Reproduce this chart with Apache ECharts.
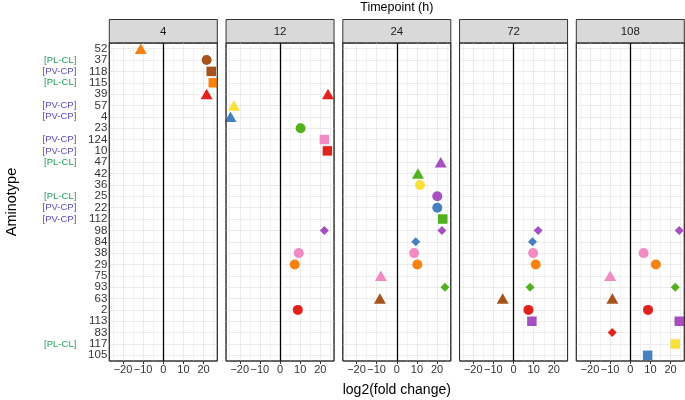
<!DOCTYPE html>
<html><head><meta charset="utf-8">
<script src="https://cdn.jsdelivr.net/npm/echarts@6/dist/echarts.min.js"></script>
<style>html,body{margin:0;padding:0;background:#fff}#c{width:685px;height:400px}</style>
</head><body><div id="c"></div>
<script>
// ---- data ----
const categories = ['52','37','118','115','39','57','4','23','124','10','47','42','36','25','22','112','98','84','38','29','75','93','63','2','113','83','117','105'];
const prefixes = {'37':'[PL-CL]','118':'[PV-CP]','115':'[PL-CL]','57':'[PV-CP]','4':'[PV-CP]','124':'[PV-CP]','10':'[PV-CP]','47':'[PL-CL]','25':'[PL-CL]','22':'[PV-CP]','112':'[PV-CP]','117':'[PL-CL]'};
const timepoints = ['4','12','24','72','108'];
const xTicks = [-20,-10,0,10,20];
const xMinor = [-25,-15,-5,5,15,25];

const tp4   = [['52',-11.2],['37',21.5],['118',23.8],['115',24.8],['39',21.5]];
const tp12  = [['39',23.8],['57',-22.9],['4',-24.6],['23',10.2],['124',22.0],['10',23.5],['98',22.0],['38',9.3],['29',7.3],['2',8.8]];
const tp24  = [['47',21.8],['42',10.5],['36',11.5],['25',20.1],['22',20.1],['112',22.8],['98',22.4],['84',9.4],['38',8.6],['29',10.2],['75',-7.9],['93',23.9],['63',-8.4]];
const tp72  = [['98',12.2],['84',9.4],['38',9.7],['29',11.0],['93',8.2],['63',-5.4],['2',7.4],['113',9.1]];
const tp108 = [['98',24.3],['38',6.6],['29',12.7],['75',-10.0],['93',22.3],['63',-8.9],['2',8.8],['113',24.3],['83',-9.0],['117',22.3],['105',8.6]];
const panelData = [tp4, tp12, tp24, tp72, tp108];

// ---- styles ----
const COL = {orange:'#f8820f', brown:'#a6521c', red:'#e0231c', yellow:'#f7e13a', blue:'#4680c0', green:'#52b11e', pink:'#f08cc3', purple:'#a64fc0'};
const aminoStyle = {
  '52':['triangle','orange'], '37':['circle','brown'], '118':['rect','brown'], '115':['rect','orange'],
  '39':['triangle','red'], '57':['triangle','yellow'], '4':['triangle','blue'], '23':['circle','green'],
  '124':['rect','pink'], '10':['rect','red'], '47':['triangle','purple'], '42':['triangle','green'],
  '36':['circle','yellow'], '25':['circle','purple'], '22':['circle','blue'], '112':['rect','green'],
  '98':['diamond','purple'], '84':['diamond','blue'], '38':['circle','pink'], '29':['circle','orange'],
  '75':['triangle','pink'], '93':['diamond','green'], '63':['triangle','brown'], '2':['circle','red'],
  '113':['rect','purple'], '83':['diamond','red'], '117':['rect','yellow'], '105':['rect','blue']
};
const symSize = {circle:10, rect:9.5, triangle:[12,10.5], diamond:[9,9]};
const FONT = 'Liberation Sans, Arial, Helvetica, sans-serif';
const GREEN = '#22a05a', PURPLE = '#5a4cc2';
const TICKTXT = '#333';

const PW = 108, STEP = 116.75, L0 = 109.3, TOP = 43, H = 318;
const lefts = timepoints.map((t,i)=>L0 + i*STEP);
const minus = v => String(v).replace('-', '\u2212');

const grids = [], xAxes = [], yAxes = [], series = [];
timepoints.forEach((t,i)=>{
  grids.push({left:lefts[i], top:TOP, width:PW, height:H, show:true, backgroundColor:'#fff', borderColor:'#333', borderWidth:1});
  xAxes.push({gridIndex:i, type:'value', min:-26.8, max:26.8,
    axisLine:{show:false}, splitLine:{show:false},
    axisTick:{show:true, length:3, lineStyle:{color:'#333'}, customValues:xTicks},
    axisLabel:{customValues:xTicks, formatter:minus, color:TICKTXT, fontSize:11, margin:3, fontFamily:FONT}});
  yAxes.push({gridIndex:i, type:'category', data:categories, inverse:true, position:'left',
    axisLine:{show:false}, splitLine:{show:false},
    axisTick:{show:i===0, alignWithLabel:true, interval:0, length:3, lineStyle:{color:'#333'}},
    axisLabel:{show:i===0, interval:0, color:TICKTXT, fontSize:11.5, margin:2, fontFamily:FONT}});
  const gl = [];
  xTicks.forEach(v=>gl.push({xAxis:v, lineStyle:{color:'#ebebeb', width:1, type:'solid'}}));
  xMinor.forEach(v=>gl.push({xAxis:v, lineStyle:{color:'#ededed', width:0.7, type:'solid'}}));
  categories.forEach((c,k)=>gl.push({yAxis:k, lineStyle:{color:'#ebebeb', width:1, type:'solid'}}));
  series.push({type:'scatter', xAxisIndex:i, yAxisIndex:i, data:[], z:1, silent:true,
    markLine:{silent:true, symbol:['none','none'], animation:false, label:{show:false}, data:gl}});
  series.push({type:'scatter', xAxisIndex:i, yAxisIndex:i, data:[], z:2, silent:true,
    markLine:{silent:true, symbol:['none','none'], animation:false, label:{show:false},
      data:[{xAxis:0, lineStyle:{color:'#000', width:1.3, type:'solid'}}]}});
  series.push({type:'scatter', xAxisIndex:i, yAxisIndex:i, z:5, clip:true,
    data: panelData[i].map(([cat,x])=>{
      const [sh,cn] = aminoStyle[cat];
      return {value:[x,cat], symbol:sh, symbolSize:symSize[sh], itemStyle:{color:COL[cn], opacity:1}};
    })});
});
// prefix labels axis on the first panel
yAxes.push({gridIndex:0, type:'category', data:categories, inverse:true, position:'left',
  axisLine:{show:false}, axisTick:{show:false}, splitLine:{show:false},
  axisLabel:{margin:33, interval:0, fontSize:9.5, fontFamily:FONT,
    formatter:v=>prefixes[v]||'',
    color:v=>prefixes[v]==='[PL-CL]'?GREEN:PURPLE}});

const txt = (text, x, y, size, extra) => Object.assign({type:'text', x, y, silent:true,
  style:{text, fill:'#000', font:size+'px '+FONT, fontSize:size, fontFamily:FONT,
    textAlign:'center', align:'center', textVerticalAlign:'middle', verticalAlign:'middle'}}, extra||{});

const graphic = [];
timepoints.forEach((t,i)=>{
  graphic.push({type:'rect', silent:true, shape:{x:lefts[i], y:19.5, width:PW, height:23.5},
    style:{fill:'#d9d9d9', stroke:'#333', lineWidth:1}});
  graphic.push({type:'rect', silent:true, z:100, shape:{x:lefts[i], y:TOP, width:PW, height:H},
    style:{fill:'none', stroke:'#333', lineWidth:1}});
  const tt = txt(t, lefts[i]+PW/2, 31.5, 11.5); tt.style.fill = '#1a1a1a';
  graphic.push(tt);
});
const cx = (lefts[0] + lefts[4] + PW)/2;
graphic.push(txt('Timepoint (h)', cx, 8, 12.5));
graphic.push(txt('log2(fold change)', cx, 390, 14));
graphic.push(txt('Aminotype', 12, TOP + H/2, 14.5, {rotation:Math.PI/2}));

const chart = echarts.init(document.getElementById('c'));
chart.setOption({animation:false, backgroundColor:'#fff', grid:grids, xAxis:xAxes, yAxis:yAxes, series, graphic});
</script>
</body></html>
